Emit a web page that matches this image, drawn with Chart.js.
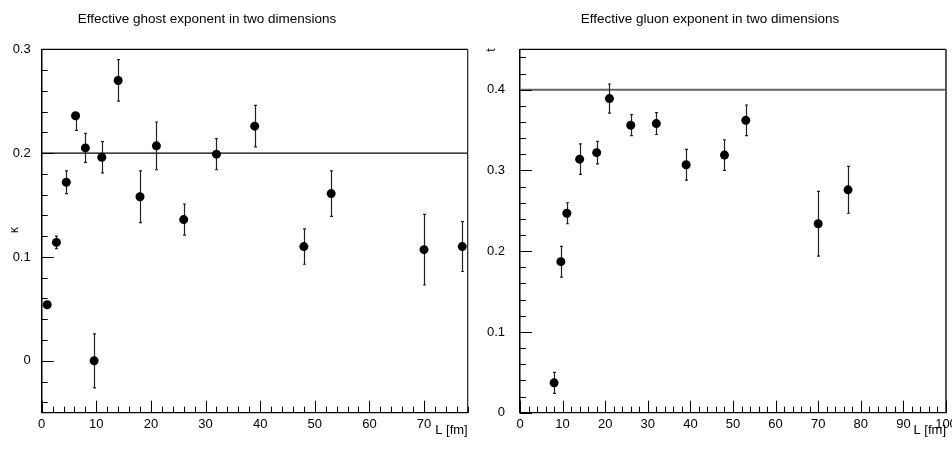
<!DOCTYPE html>
<html>
<head>
<meta charset="utf-8">
<script src="https://cdn.jsdelivr.net/npm/chart.js@4.4.1/dist/chart.umd.min.js"></script>
<style>
  html, body { margin: 0; padding: 0; background: #fff; }
  #wrap { position: relative; width: 952px; height: 450px; overflow: hidden; }
  canvas { position: absolute; top: 0; }
  #ghost { left: 0; }
  #gluon { left: 476px; }
</style>
</head>
<body>
<div id="wrap">
  <canvas id="ghost" width="476" height="450"></canvas>
  <canvas id="gluon" width="476" height="450"></canvas>
</div>
<script>
// left panel: ghost exponent kappa vs L
const ghostL = [1, 2.7, 4.5, 6.2, 8, 9.6, 11, 14, 18, 21, 26, 32, 39, 48, 53, 70, 77];
const ghostK = [0.054, 0.114, 0.172, 0.236, 0.205, 0.0, 0.196, 0.270, 0.158, 0.207, 0.136, 0.199, 0.226, 0.110, 0.161, 0.107, 0.110];
const ghostErrLo = [0.002, 0.006, 0.011, 0.014, 0.014, 0.026, 0.015, 0.020, 0.025, 0.023, 0.015, 0.015, 0.020, 0.017, 0.022, 0.034, 0.024];
const ghostErrHi = [0.002, 0.006, 0.011, 0.003, 0.014, 0.026, 0.015, 0.020, 0.025, 0.023, 0.015, 0.015, 0.020, 0.017, 0.022, 0.034, 0.024];
const ghostXTicks = [0, 10, 20, 30, 40, 50, 60, 70];
const ghostYTicks = [0, 0.1, 0.2, 0.3];

// right panel: gluon exponent t vs L
const gluonL = [8, 9.6, 11, 14, 18, 21, 26, 32, 39, 48, 53, 70, 77];
const gluonT = [0.037, 0.187, 0.247, 0.314, 0.322, 0.389, 0.356, 0.358, 0.307, 0.319, 0.362, 0.234, 0.276];
const gluonErr = [0.013, 0.019, 0.013, 0.019, 0.014, 0.018, 0.013, 0.0135, 0.019, 0.019, 0.019, 0.040, 0.029];
const gluonXTicks = [0, 10, 20, 30, 40, 50, 60, 70, 80, 90, 100];
const gluonYTicks = [0, 0.1, 0.2, 0.3, 0.4];

const FONT = '"Liberation Sans", Arial, sans-serif';

// error bars, reference line, inner ticks, frame and texts
const decor = {
  id: 'decor',
  beforeDatasetsDraw(chart, args, o) {
    const { ctx, chartArea: a, scales: { x, y } } = chart;
    ctx.save();
    // reference line
    const ry = y.getPixelForValue(o.refValue);
    ctx.strokeStyle = o.refColor;
    ctx.lineWidth = o.refWidth;
    ctx.beginPath();
    ctx.moveTo(a.left, ry);
    ctx.lineTo(a.right, ry);
    ctx.stroke();
    // error bars
    ctx.strokeStyle = '#222';
    ctx.lineWidth = 1.2;
    chart.data.datasets[0].data.forEach((p, i) => {
      const px = Math.round(x.getPixelForValue(p.x)) + 0.5;
      const y1 = y.getPixelForValue(p.y + o.errHi[i]);
      const y2 = y.getPixelForValue(p.y - o.errLo[i]);
      ctx.beginPath();
      ctx.moveTo(px, y1); ctx.lineTo(px, y2);
      ctx.moveTo(px - 1.5, y1); ctx.lineTo(px + 1.5, y1);
      ctx.moveTo(px - 1.5, y2); ctx.lineTo(px + 1.5, y2);
      ctx.stroke();
    });
    ctx.restore();
  },
  afterDraw(chart, args, o) {
    const { ctx, chartArea: a, scales: { x, y } } = chart;
    ctx.save();
    // frame: top edge black, right edge per panel
    ctx.strokeStyle = '#000';
    ctx.lineWidth = 1.2;
    ctx.beginPath();
    ctx.moveTo(a.left, a.top); ctx.lineTo(a.right, a.top);
    ctx.stroke();
    ctx.strokeStyle = o.frameColor;
    ctx.lineWidth = o.frameWidth;
    ctx.beginPath();
    ctx.moveTo(a.right, a.top); ctx.lineTo(a.right, a.bottom);
    ctx.stroke();
    // inward ticks (minor every step, major every 10 / 0.1)
    ctx.strokeStyle = '#000';
    ctx.lineWidth = 1;
    ctx.beginPath();
    for (let k = Math.ceil(x.min / o.xMinor - 1e-6); k * o.xMinor <= x.max + 1e-6; k++) {
      const v = k * o.xMinor;
      const px = Math.round(x.getPixelForValue(v)) + 0.5;
      const len = (k % 5 === 0) ? 12 : 6;
      ctx.moveTo(px, a.bottom); ctx.lineTo(px, a.bottom - len);
    }
    for (let k = Math.ceil(y.min / o.yMinor - 1e-6); k * o.yMinor <= y.max + 1e-6; k++) {
      const v = k * o.yMinor;
      const py = Math.round(y.getPixelForValue(v)) + 0.5;
      const len = (k % 5 === 0) ? 12 : 6;
      ctx.moveTo(a.left, py); ctx.lineTo(a.left + len, py);
    }
    ctx.stroke();
    // texts
    ctx.fillStyle = '#000';
    ctx.font = '13.5px ' + FONT;
    ctx.textAlign = 'center';
    ctx.textBaseline = 'alphabetic';
    ctx.fillText(o.title, o.titleX, 23);
    ctx.font = '13px ' + FONT;
    ctx.textAlign = 'right';
    ctx.fillText('L [fm]', a.right, 434);
    ctx.translate(o.yTitleX, o.yTitleY);
    ctx.rotate(-Math.PI / 2);
    ctx.font = '12px ' + FONT;
    ctx.textAlign = 'center';
    ctx.textBaseline = 'middle';
    ctx.fillText(o.yTitle, 0, 0);
    ctx.restore();
  }
};

function panel(id, xs, ys, cfg) {
  return new Chart(document.getElementById(id), {
    type: 'scatter',
    data: {
      datasets: [{
        data: xs.map((v, i) => ({ x: v, y: ys[i] })),
        pointRadius: 4.5,
        pointHoverRadius: 4.5,
        pointBackgroundColor: '#000',
        pointBorderWidth: 0
      }]
    },
    options: {
      responsive: false,
      animation: false,
      events: [],
      layout: { padding: { left: 0, top: 49.3, right: 476 - cfg.right, bottom: 0 } },
      scales: {
        x: {
          type: 'linear', min: cfg.xMin, max: cfg.xMax,
          grid: { display: false },
          border: { display: true, color: '#000', width: 1.2 },
          ticks: { padding: -4, color: '#000', font: { family: FONT, size: 13 }, maxRotation: 0, autoSkip: false, callback: v => String(v) },
          afterBuildTicks: s => { s.ticks = cfg.xTicks.map(v => ({ value: v })); },
          afterFit: s => { s.height = 450 - 412.7; s.paddingLeft = 0; s.paddingRight = 0; }
        },
        y: {
          type: 'linear', min: cfg.yMin, max: cfg.yMax,
          grid: { display: false },
          border: { display: true, color: '#000', width: 1.5 },
          ticks: { padding: cfg.yPad, color: '#000', font: { family: FONT, size: 13 }, callback: v => String(v) },
          afterBuildTicks: s => { s.ticks = cfg.yTicks.map(v => ({ value: v })); },
          afterFit: s => { s.width = cfg.left; s.paddingTop = 0; s.paddingBottom = 0; }
        }
      },
      plugins: {
        legend: { display: false },
        title: { display: false },
        tooltip: { enabled: false },
        decor: cfg.decor
      }
    },
    plugins: [decor]
  });
}

panel('ghost', ghostL, ghostK, {
  left: 41.7, right: 467.7, xMin: 0, xMax: 78, yMin: -0.05, yMax: 0.3, yPad: 3,
  xTicks: ghostXTicks, yTicks: ghostYTicks,
  decor: {
    errLo: ghostErrLo, errHi: ghostErrHi,
    refValue: 0.2, refColor: '#000', refWidth: 1.2,
    frameColor: '#222', frameWidth: 1.2,
    xMinor: 2, yMinor: 0.02,
    title: 'Effective ghost exponent in two dimensions', titleX: 207,
    yTitle: 'κ', yTitleX: 15, yTitleY: 230
  }
});

panel('gluon', gluonL, gluonT, {
  left: 44, right: 470, xMin: 0, xMax: 100, yMin: 0, yMax: 0.45, yPad: 7,
  xTicks: gluonXTicks, yTicks: gluonYTicks,
  decor: {
    errLo: gluonErr, errHi: gluonErr,
    refValue: 0.4, refColor: '#666', refWidth: 2,
    frameColor: '#555', frameWidth: 2,
    xMinor: 2, yMinor: 0.02,
    title: 'Effective gluon exponent in two dimensions', titleX: 234,
    yTitle: 't', yTitleX: 16, yTitleY: 50
  }
});
</script>
</body>
</html>
